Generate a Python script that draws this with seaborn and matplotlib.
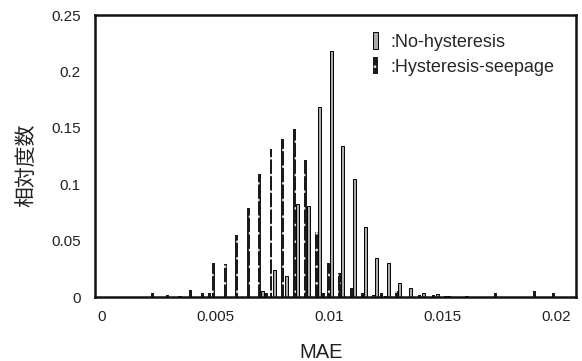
import matplotlib.pyplot as plt
from matplotlib.patches import Patch
import pandas as pd
import seaborn as sns
import numpy as np

# bin positions (MAE) and relative frequencies
seep_x = [0.00227, 0.00293, 0.00394, 0.00445, 0.00476, 0.00495, 0.00545, 0.00596,
          0.00647, 0.00697, 0.00727, 0.00746, 0.00798, 0.00848, 0.00897, 0.00948,
          0.00977, 0.00997, 0.01047, 0.01099, 0.01148, 0.01230, 0.01248, 0.01299,
          0.01398, 0.01460, 0.01511, 0.01734, 0.01904, 0.01986]
seep_y = [0.0035, 0.0015, 0.006, 0.0035, 0.0035, 0.0304, 0.0295, 0.055,
          0.079, 0.109, 0.0035, 0.131, 0.140, 0.149, 0.1217, 0.0576,
          0.0035, 0.0298, 0.0213, 0.0082, 0.0035, 0.0035, 0.001, 0.0058,
          0.002, 0.0015, 0.001, 0.0035, 0.005, 0.0035]

nohys_x = [0.00344, 0.00709, 0.00761, 0.00812, 0.00862, 0.00910, 0.00961, 0.01010,
           0.01061, 0.01112, 0.01161, 0.01196, 0.01211, 0.01263, 0.01312, 0.01360,
           0.01414, 0.01479, 0.01526, 0.01607]
nohys_y = [0.001, 0.0056, 0.024, 0.019, 0.0827, 0.0812, 0.1684, 0.2183,
           0.1344, 0.1046, 0.062, 0.0018, 0.0348, 0.030, 0.0124, 0.008,
           0.0035, 0.003, 0.001, 0.001]

x_ticks = [0, 0.005, 0.01, 0.015, 0.02]
x_tick_labels = ['0', '0.005', '0.01', '0.015', '0.02']
y_ticks = [0, 0.05, 0.1, 0.15, 0.2, 0.25]
y_tick_labels = ['0', '0.05', '0.1', '0.15', '0.2', '0.25']

df_seep = pd.DataFrame({'MAE': seep_x, 'freq': seep_y})
df_nohys = pd.DataFrame({'MAE': nohys_x, 'freq': nohys_y})

sns.set_style('white')
plt.rcParams['font.family'] = ['Liberation Sans', 'Noto Sans CJK JP', 'DejaVu Sans']
plt.rcParams['hatch.linewidth'] = 0.7

fig, ax = plt.subplots(figsize=(5.82, 3.61), dpi=100)
fig.subplots_adjust(left=0.163, right=0.99, top=0.958, bottom=0.177)

bar_w = 0.00013
w_seep = bar_w / np.diff(np.unique(seep_x)).min()
w_nohys = bar_w / np.diff(np.unique(nohys_x)).min()

dark = '#1a1a1a'
gray = '#ababab'
dots = '#e6e6e6'

sns.barplot(data=df_seep, x='MAE', y='freq', native_scale=True, width=w_seep,
            errorbar=None, color=dark, saturation=1, edgecolor=dots, linewidth=0,
            hatch='..', ax=ax)
sns.barplot(data=df_nohys, x='MAE', y='freq', native_scale=True, width=w_nohys,
            errorbar=None, color=gray, edgecolor='black', linewidth=0.7,
            saturation=1, ax=ax)

ax.set_xlim(-0.00028, 0.02087)
ax.set_ylim(0, 0.25)
ax.set_xticks(x_ticks)
ax.set_xticklabels(x_tick_labels)
ax.set_yticks(y_ticks)
ax.set_yticklabels(y_tick_labels)
ax.tick_params(axis='x', length=0, labelsize=11, pad=9, colors='#222222')
ax.tick_params(axis='y', length=0, labelsize=11, pad=10, colors='#222222')

for s in ax.spines.values():
    s.set_visible(True)
    s.set_color('#111111')
    s.set_linewidth(1.8)

ax.set_xlabel('MAE', fontsize=14.5, color='#222222')
ax.xaxis.set_label_coords(0.47, -0.162)
ax.set_ylabel('相対度数', fontsize=15, color='#222222',
              family=['Noto Sans CJK JP', 'DejaVu Sans'])
ax.yaxis.set_label_coords(-0.12, 0.468)

handles = [Patch(facecolor=gray, edgecolor='black', linewidth=0.7),
           Patch(facecolor=dark, edgecolor=dots, linewidth=0, hatch='..')]
ax.legend(handles, [':No-hysteresis', ':Hysteresis-seepage'], loc='upper left',
          bbox_to_anchor=(0.5776, 0.941), frameon=False, fontsize=13,
          borderpad=0, borderaxespad=0,
          handlelength=0.3, handleheight=1.1, handletextpad=0.65, labelspacing=0.35)

plt.savefig('out.png', dpi=100)
